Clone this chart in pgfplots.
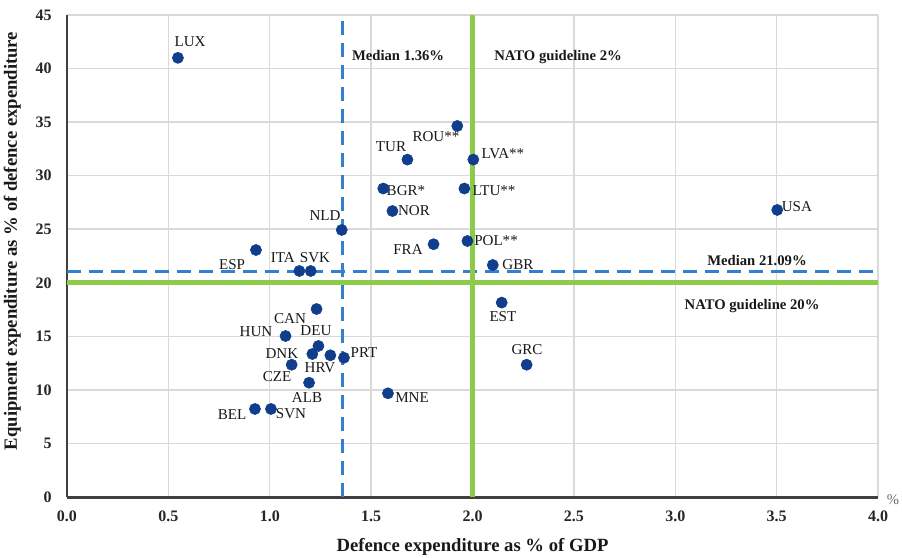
\documentclass[border=0pt]{standalone}
\usepackage{fontspec}
\setmainfont{Liberation Serif}
\usepackage{pgfplots}
\pgfplotsset{compat=1.18}
\definecolor{dotblue}{RGB}{16,62,140}
\definecolor{medblue}{RGB}{52,128,204}
\definecolor{natogreen}{RGB}{140,204,72}
\definecolor{gridgray}{RGB}{217,217,217}
\definecolor{axgray}{RGB}{64,64,64}
\newcommand{\lab}{\fontsize{11.3}{13}\selectfont}
\newcommand{\ann}{\bfseries\fontsize{11}{13}\selectfont}
\begin{document}
\begin{tikzpicture}
\useasboundingbox (-50.25pt,-45pt) rectangle (626.25pt,372.75pt);
\begin{axis}[
  scale only axis, width=608.25pt, height=361.5pt,
  at={(0pt,0pt)}, anchor=south west,
  xmin=0, xmax=4, ymin=0, ymax=45,
  xtick={0,0.5,1,1.5,2,2.5,3,3.5,4},
  ytick={0,5,10,15,20,25,30,35,40,45},
  /pgf/number format/assume math mode=true,
  tick label style={font=\bfseries\fontsize{12}{14}\selectfont, text=black!85},
  xticklabel style={yshift=-7pt, /pgf/number format/fixed, /pgf/number format/fixed zerofill, /pgf/number format/precision=1},
  yticklabel style={xshift=-8pt},
  grid=major, grid style={gridgray, line width=1.1pt},
  axis x line*=bottom, axis y line*=left,
  x axis line style={-, draw=axgray, line width=2.25pt},
  y axis line style={-, draw=axgray, line width=1.5pt},
  major tick length=0pt,
  clip=false,
]
% medians
\addplot[medblue, line width=2.2pt, dash pattern=on 10.5pt off 6pt] coordinates {(1.36,0) (1.36,45)};
\addplot[medblue, line width=2.2pt, dash pattern=on 10.5pt off 6pt] coordinates {(0,21.09) (4,21.09)};
% countries
\addplot[only marks, mark=*, mark size=4.2pt, mark options={fill=dotblue, draw=dotblue}] table {
x y
0.547 41.0
0.932 23.06
1.146 21.1
1.202 21.1
1.355 24.93
1.679 31.5
1.925 34.64
2.004 31.5
1.560 28.8
1.605 26.7
1.960 28.8
1.808 23.6
1.975 23.9
2.100 21.66
3.503 26.8
2.144 18.15
2.267 12.35
1.231 17.55
1.078 15.03
1.240 14.1
1.210 13.35
1.299 13.23
1.366 13.0
1.108 12.35
1.194 10.67
1.583 9.68
0.927 8.22
1.006 8.22
};
% NATO guidelines
\addplot[natogreen, line width=4pt] coordinates {(2,0) (2,45)};
\addplot[natogreen, line width=4pt] coordinates {(0,20) (4,20)};
% labels
\begin{scope}[every node/.style={font=\lab, inner sep=0pt, text=black!90}]
\node at (axis cs:0.607,42.48) {LUX};
\node at (axis cs:0.814,21.68) {ESP};
\node at (axis cs:1.065,22.32) {ITA};
\node at (axis cs:1.223,22.32) {SVK};
\node at (axis cs:1.273,26.24) {NLD};
\node at (axis cs:1.598,32.68) {TUR};
\node at (axis cs:1.820,33.61) {ROU**};
\node at (axis cs:2.150,32.02) {LVA**};
\node at (axis cs:1.672,28.57) {BGR*};
\node at (axis cs:1.711,26.70) {NOR};
\node at (axis cs:2.106,28.57) {LTU**};
\node at (axis cs:1.682,23.06) {FRA};
\node at (axis cs:2.116,23.90) {POL**};
\node at (axis cs:2.224,21.66) {GBR};
\node at (axis cs:3.600,27.08) {USA};
\node at (axis cs:2.150,16.81) {EST};
\node at (axis cs:2.269,13.73) {GRC};
\node at (axis cs:1.100,16.62) {CAN};
\node at (axis cs:0.932,15.41) {HUN};
\node at (axis cs:1.228,15.50) {DEU};
\node at (axis cs:1.060,13.35) {DNK};
\node at (axis cs:1.248,12.04) {HRV};
\node at (axis cs:1.465,13.45) {PRT};
\node at (axis cs:1.036,11.20) {CZE};
\node at (axis cs:1.184,9.24) {ALB};
\node at (axis cs:1.702,9.24) {MNE};
\node at (axis cs:0.814,7.66) {BEL};
\node at (axis cs:1.105,7.75) {SVN};
\end{scope}
\begin{scope}[every node/.style={font=\ann, inner sep=0pt, text=black!90}]
\node at (axis cs:1.633,41.18) {Median 1.36\%};
\node at (axis cs:2.422,41.08) {NATO guideline 2\%};
\node at (axis cs:3.403,22.04) {Median 21.09\%};
\node at (axis cs:3.379,17.83) {NATO guideline 20\%};
\end{scope}
\node[font=\fontsize{11}{13}\selectfont, text=black!60, inner sep=0pt] at (axis cs:4.074,-0.28) {\%};
\node[font=\bfseries\fontsize{14}{16}\selectfont, text=black!90, inner sep=0pt] at (axis cs:2.0,-4.67) {Defence expenditure as \% of GDP};
\node[font=\bfseries\fontsize{14}{16}\selectfont, text=black!90, inner sep=0pt, rotate=90] at (axis cs:-0.27,23.9) {Equipment expenditure as \% of defence expenditure};
\end{axis}
\end{tikzpicture}
\end{document}
